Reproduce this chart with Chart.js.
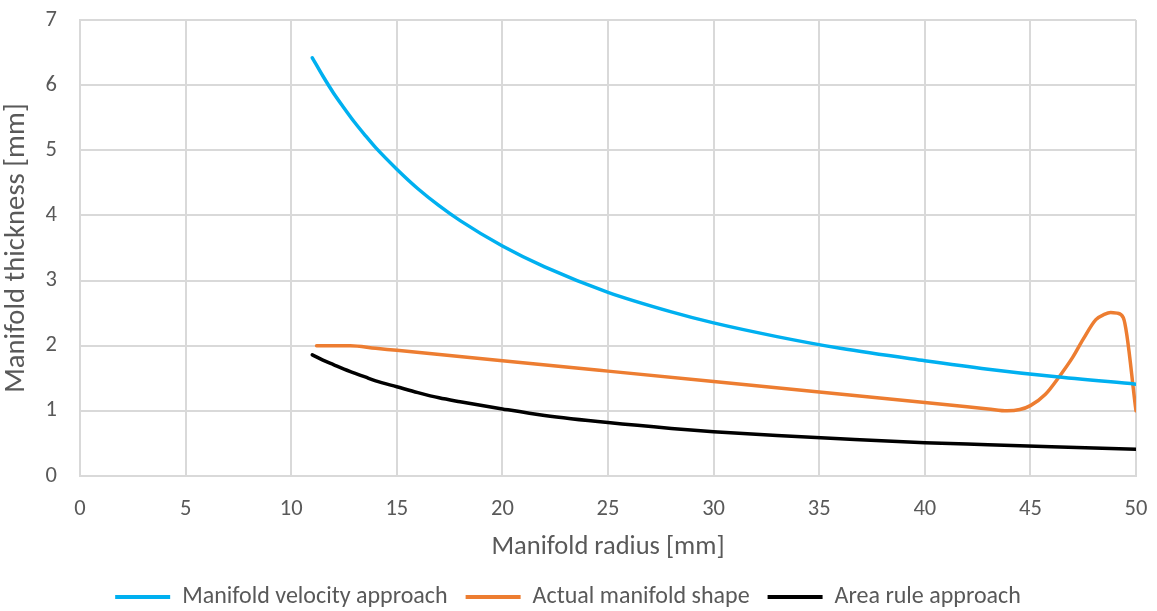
<!DOCTYPE html>
<html>
<head>
<meta charset="utf-8">
<script src="https://cdn.jsdelivr.net/npm/chart.js@4"></script>
<style>
  html, body { margin:0; padding:0; background:#fff; }
  #wrap { width:1157px; height:611px; }
</style>
</head>
<body>
<div id="wrap"><canvas id="c" width="1157" height="611"></canvas></div>
<script>
const SERIES_NAMES = ['Manifold velocity approach', 'Actual manifold shape', 'Area rule approach'];
const COLORS = ['#00B0F0', '#ED7D31', '#000000'];

// radius [mm] / thickness [mm]
const velocityR = [11, 11.5, 12, 12.5, 13, 13.5, 14, 15, 16, 17, 18, 20, 22, 25, 28, 30, 33, 36, 40, 43, 46, 50];
const velocityT = [6.42, 6.14, 5.88, 5.65, 5.43, 5.23, 5.04, 4.71, 4.41, 4.15, 3.92, 3.53, 3.21, 2.82, 2.52, 2.35, 2.14, 1.96, 1.77, 1.64, 1.53, 1.41];

const actualR = [11.2, 12, 12.8, 14, 15, 20, 25, 30, 35, 40, 43, 43.9, 44.5, 45, 45.7, 46.4, 47, 47.5, 48.1, 48.5, 48.8, 49.1, 49.4, 50];
const actualT = [2.0, 2.0, 2.0, 1.96, 1.93, 1.77, 1.61, 1.45, 1.29, 1.13, 1.03, 1.0, 1.02, 1.08, 1.25, 1.54, 1.82, 2.10, 2.40, 2.48, 2.51, 2.50, 2.43, 1.0];

const areaR = [11, 11.5, 12, 12.5, 13, 13.5, 14, 15, 16, 17, 18, 20, 22, 25, 28, 30, 33, 36, 40, 43, 46, 50];
const areaT = [1.86, 1.78, 1.71, 1.64, 1.58, 1.52, 1.46, 1.37, 1.28, 1.20, 1.14, 1.03, 0.93, 0.82, 0.73, 0.68, 0.62, 0.57, 0.51, 0.48, 0.45, 0.41];

const xTicks = [0, 5, 10, 15, 20, 25, 30, 35, 40, 45, 50];
const yTicks = [0, 1, 2, 3, 4, 5, 6, 7];

const FONT = "Calibri, Carlito, Lato, sans-serif";
const TXT = '#595959';
const GRID = '#D9D9D9';

function pts(xs, ys){ return xs.map((x,i)=>({x, y:ys[i]})); }

function mkSet(i, xs, ys){
  return {
    label: SERIES_NAMES[i],
    data: pts(xs, ys),
    borderColor: COLORS[i],
    backgroundColor: COLORS[i],
    borderWidth: 3.5,
    pointRadius: 0,
    cubicInterpolationMode: 'monotone',
    borderCapStyle: 'round',
    fill: false,
  };
}

// drop the label overhang so the plot box is set by layout.padding only
function noOverhang(s){
  s.paddingLeft = 0; s.paddingRight = 0; s.paddingTop = 0; s.paddingBottom = 0;
}

new Chart(document.getElementById('c'), {
  type: 'line',
  data: {
    datasets: [
      mkSet(0, velocityR, velocityT),
      mkSet(1, actualR, actualT),
      mkSet(2, areaR, areaT),
    ]
  },
  options: {
    responsive: false,
    animation: false,
    layout: { padding: { top: 20, right: 21, bottom: -8, left: 0 } },
    plugins: {
      tooltip: { enabled: false },
      legend: {
        position: 'bottom',
        labels: {
          color: TXT,
          font: { family: FONT, size: 24 },
          boxWidth: 55,
          boxHeight: 4,
          padding: 18,
          generateLabels: (chart) => chart.data.datasets.map((d, i) => ({
            text: d.label,
            fillStyle: d.borderColor,
            strokeStyle: d.borderColor,
            lineWidth: 0,
            hidden: false,
            datasetIndex: i,
            fontColor: TXT,
          })),
        },
      },
    },
    scales: {
      x: {
        type: 'linear',
        min: 0, max: 50,
        afterBuildTicks: (s) => { s.ticks = xTicks.map(v => ({ value: v })); },
        afterFit: (s) => { s.height = 91; noOverhang(s); },
        ticks: { color: TXT, font: { family: FONT, size: 22.5 }, padding: 20 },
        grid: { color: GRID, lineWidth: 2, drawTicks: false },
        border: { color: GRID, width: 2 },
        title: { display: true, text: 'Manifold radius [mm]', color: TXT, font: { family: FONT, size: 26.5 } },
      },
      y: {
        min: 0, max: 7,
        afterBuildTicks: (s) => { s.ticks = yTicks.map(v => ({ value: v })); },
        afterFit: (s) => { s.width = 80; noOverhang(s); },
        ticks: { color: TXT, font: { family: FONT, size: 22.5 }, padding: 23 },
        grid: { color: GRID, lineWidth: 2, drawTicks: false },
        border: { color: GRID, width: 2 },
        title: { display: true, text: 'Manifold thickness [mm]', color: TXT, font: { family: FONT, size: 28.7 }, padding: 0 },
      },
    },
  },
});
</script>
</body>
</html>
